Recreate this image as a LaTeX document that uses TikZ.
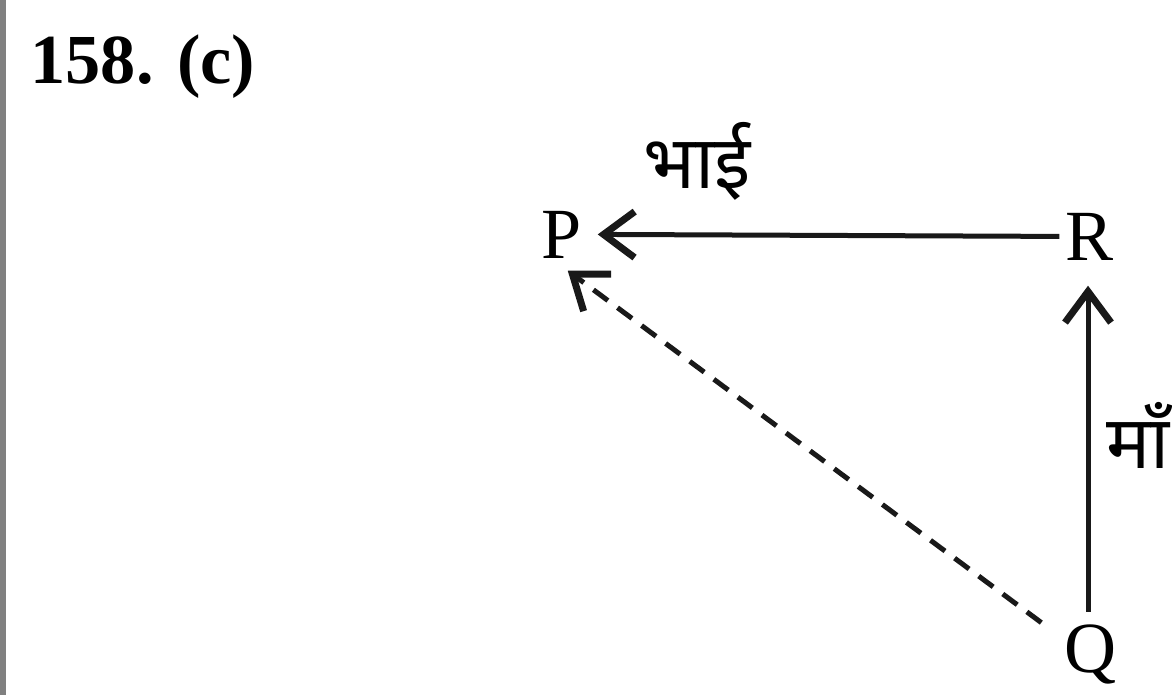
\documentclass[tikz,border=0pt]{standalone}
\usepackage{fontspec}
\setmainfont{Liberation Serif}
\newfontfamily\deva[Script=Devanagari]{Noto Sans}
\usetikzlibrary{arrows.meta}
\begin{document}
\begin{tikzpicture}[x=0.1mm,y=-0.1mm,
  lbl/.style={inner sep=0pt,anchor=base,font=\fontsize{20.5}{22}\selectfont},
  devlbl/.style={inner sep=0pt,anchor=base,font=\deva\fontsize{21}{24}\selectfont},
  rel/.style={line width=0.5mm,draw=black!90,
    -{Straight Barb[length=3.1mm,width=4.6mm,line width=0.7mm]}},
  reldash/.style={rel,dash pattern=on 1.8mm off 1.2mm}]
\useasboundingbox (0,0) rectangle (1172,695);
\fill[white] (0,0) rectangle (1172,695);
\draw[line width=0.6mm,black!50] (3,0) -- (3,695);
\node[inner sep=0pt,anchor=base west,font=\bfseries\fontsize{20}{24}\selectfont] (title) at (30,83) {158. (c)};
\node[lbl] (P) at (562,258) {P};
\node[lbl] (R) at (1090,260) {R};
\node[lbl] (Q) at (1090,672) {Q};
\node[devlbl] (bhai) at (697,188) {भाई};
\node[devlbl,anchor=base east] (maa) at (1170,468) {माँ};
\draw[rel] ([xshift=-0.6mm]R.west) -- ([xshift=1.5mm]P.east);
\draw[rel] ([yshift=1.2mm,xshift=-0.2mm]Q.north) -- ([yshift=-2.5mm,xshift=-0.2mm]R.south);
\draw[reldash] ([xshift=-2.2mm,yshift=0.1mm]Q.north west) -- ([xshift=-1.5mm,yshift=-1.2mm]P.south east);
\end{tikzpicture}
\end{document}
